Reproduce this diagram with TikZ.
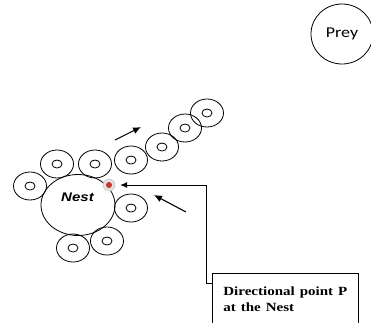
\documentclass[tikz,border=0pt]{standalone}
\usepackage{fontspec}
\setmainfont{Liberation Serif}
\newfontfamily\arialfont{Liberation Sans}
\newfontfamily\calfont{Carlito}
\usepackage{xcolor}
\usetikzlibrary{positioning,arrows.meta,calc,shapes.geometric}
\definecolor{ink}{HTML}{000000}
\definecolor{dotred}{HTML}{C0392B}
\definecolor{halo}{HTML}{E6E0E0}
\newcommand{\wide}[1]{\scalebox{1.2}[1]{#1}}

\tikzset{
  ring/.style={draw=ink,ellipse,line width=0.8pt,minimum width=33pt,minimum height=28pt,inner sep=0pt},
  hole/.style={draw=ink,ellipse,line width=0.8pt,minimum width=10pt,minimum height=8pt,inner sep=0pt},
  walk/.style={draw=ink,line width=1.1pt,-{Latex[length=8pt,width=7pt]}}
}

\begin{document}
\begin{tikzpicture}[x=1pt,y=-1pt]
  \useasboundingbox (0,0) rectangle (371,322);
  % nest and prey
  \node[draw=ink,ellipse,line width=0.8pt,minimum width=74pt,minimum height=61pt] (nest) at (78,205) {};
  \node[font=\arialfont\bfseries\itshape\fontsize{12.5}{14}\selectfont] at (77.5,197) {\wide{Nest}};
  \node[draw=ink,ellipse,line width=0.8pt,minimum width=62pt,minimum height=60pt,
        font=\calfont\fontsize{15}{17}\selectfont] (prey) at (342,34) {\wide{Prey}};
  % rings of ants
  \foreach \x/\y [count=\i] in {30/186,57/164,95/164,131/160,162/147,185/128,207/113,131/208,107/241,73/248}{
    \node[ring] (r\i) at (\x,\y) {};
    \node[hole] (h\i) at (r\i) {};
  }
  % point P
  \node[circle,fill=halo,draw=halo!80!black,line width=0.3pt,minimum size=12pt,inner sep=0pt] (pointP) at (109,185) {};
  \node[circle,fill=dotred,minimum size=6pt,inner sep=0pt] at (pointP) {};
  % direction arrows
  \coordinate (a1) at (115,140);
  \coordinate (b1) at (141,127);
  \coordinate (a2) at (186,212);
  \coordinate (b2) at (154,195);
  \draw[walk] (a1) -- (b1);
  \draw[walk] (a2) -- (b2);
  % label box
  \node[draw=ink,line width=0.8pt,anchor=north west,align=left,text width=124pt,
        inner xsep=11pt,inner ysep=13pt,
        font=\bfseries\fontsize{12.5}{16}\selectfont] (box) at (212,273) {\wide{Directional point P}\\\wide{at the Nest}};
  \draw[ink,line width=1pt,-{Latex[length=7pt,width=6pt]},shorten >=5pt] ([yshift=-10pt]box.north west) -- ++(-6,0) |- (pointP.east);
\end{tikzpicture}
\end{document}
